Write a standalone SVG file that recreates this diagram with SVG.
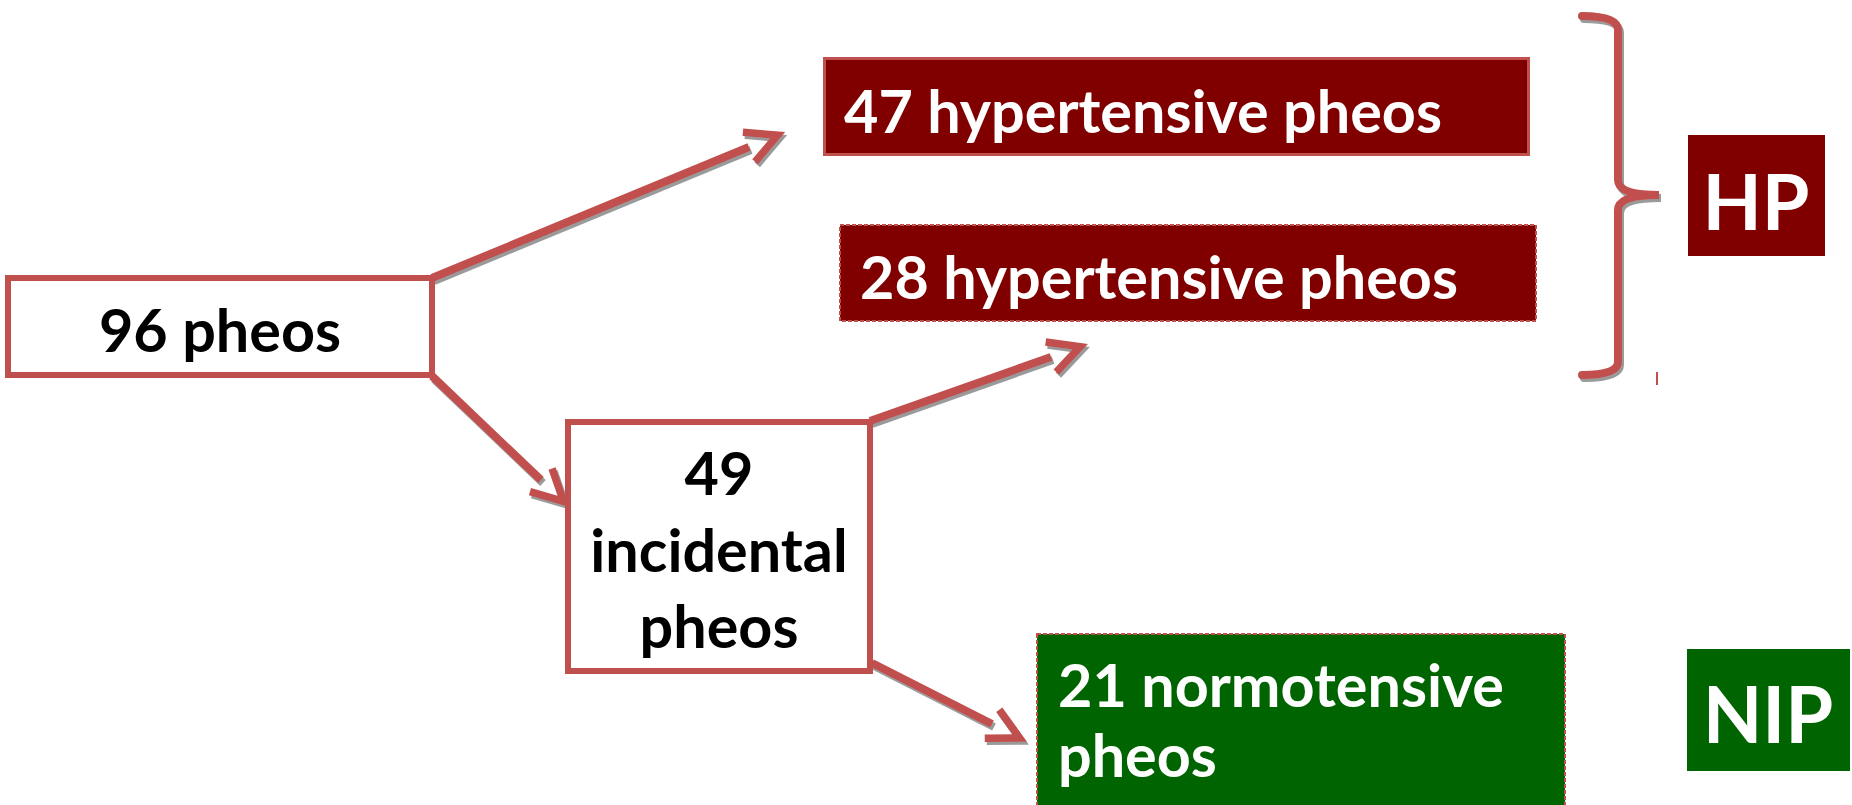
<svg xmlns="http://www.w3.org/2000/svg" width="1852" height="805" viewBox="0 0 1852 805">
  <style>
    .lbl { font-family: Lato, "Open Sans", "Liberation Sans", sans-serif; font-weight: 700; font-size: 59.3px; }
    .dark { fill: #000000; }
    .light { fill: #ffffff; }
    .hp { font-size: 77px; }
    .nip { font-size: 77.5px; }
    .frame { fill: #ffffff; stroke: #c0504d; stroke-width: 6; }
    .conn { fill: none; stroke: #c0504d; stroke-width: 8; }
  </style>
  <defs>
    <filter id="shadow" filterUnits="userSpaceOnUse" x="0" y="0" width="1852" height="805">
      <feOffset in="SourceAlpha" dx="2" dy="3" result="off"/>
      <feFlood flood-color="#9a9a9a" result="col"/>
      <feComposite in="col" in2="off" operator="in" result="sh"/>
      <feMerge>
        <feMergeNode in="sh"/>
        <feMergeNode in="SourceGraphic"/>
      </feMerge>
    </filter>
    <marker id="chev" markerUnits="userSpaceOnUse" orient="auto" refX="0" refY="0" markerWidth="60" markerHeight="60" overflow="visible">
      <path d="M0,-16 L31,0 L0,16" fill="none" stroke="#c0504d" stroke-width="7.5" stroke-linejoin="miter"/>
    </marker>
  </defs>

  <rect width="1852" height="805" fill="#ffffff"/>

  <g id="connectors" filter="url(#shadow)">
    <line class="conn" x1="432" y1="278" x2="749" y2="147" marker-end="url(#chev)"/>
    <line class="conn" x1="432" y1="376" x2="541" y2="480" marker-end="url(#chev)"/>
    <line class="conn" x1="870" y1="421" x2="1051" y2="357" marker-end="url(#chev)"/>
    <line class="conn" x1="872" y1="663" x2="992" y2="724" marker-end="url(#chev)"/>
    <path class="conn" stroke-width="9" stroke-linecap="round" d="M1582,16 Q1618,16 1618,30 L1618,180 Q1618,195 1659,195 Q1618,195 1618,210 L1618,362 Q1618,375 1582,375"/>
  </g>
  <line x1="1657" y1="372" x2="1657" y2="385" stroke="#c0504d" stroke-width="2"/>

  <g id="node-96">
    <rect class="frame" x="8" y="278" width="424" height="97"/>
    <text class="lbl dark" x="220" y="352" text-anchor="middle">96 pheos</text>
  </g>

  <g id="node-47">
    <rect x="824.5" y="58.5" width="704" height="96" fill="#800000" stroke="#c0504d" stroke-width="3"/>
    <text class="lbl light" x="844" y="133">47 hypertensive pheos</text>
  </g>

  <g id="node-28">
    <rect x="840" y="225" width="696" height="96" fill="#800000" stroke="#c0504d" stroke-width="2" stroke-dasharray="4 2"/>
    <text class="lbl light" x="860" y="299">28 hypertensive pheos</text>
  </g>

  <g id="node-49">
    <rect class="frame" x="568" y="422" width="302" height="249"/>
    <text class="lbl dark" x="719" y="495" text-anchor="middle">49</text>
    <text class="lbl dark" x="719" y="572" text-anchor="middle">incidental</text>
    <text class="lbl dark" x="719" y="648" text-anchor="middle">pheos</text>
  </g>

  <g id="node-21">
    <rect x="1037" y="634" width="528" height="200" fill="#006400" stroke="#c0504d" stroke-width="2" stroke-dasharray="4 2"/>
    <text class="lbl light" x="1058" y="707">21 normotensive</text>
    <text class="lbl light" x="1058" y="777">pheos</text>
  </g>

  <g id="node-HP">
    <rect x="1688" y="135" width="137" height="121" fill="#800000"/>
    <text class="lbl light hp" x="1756" y="230" text-anchor="middle">HP</text>
  </g>

  <g id="node-NIP">
    <rect x="1687" y="649" width="163" height="122" fill="#006400"/>
    <text class="lbl light nip" x="1768" y="743" text-anchor="middle">NIP</text>
  </g>
</svg>
